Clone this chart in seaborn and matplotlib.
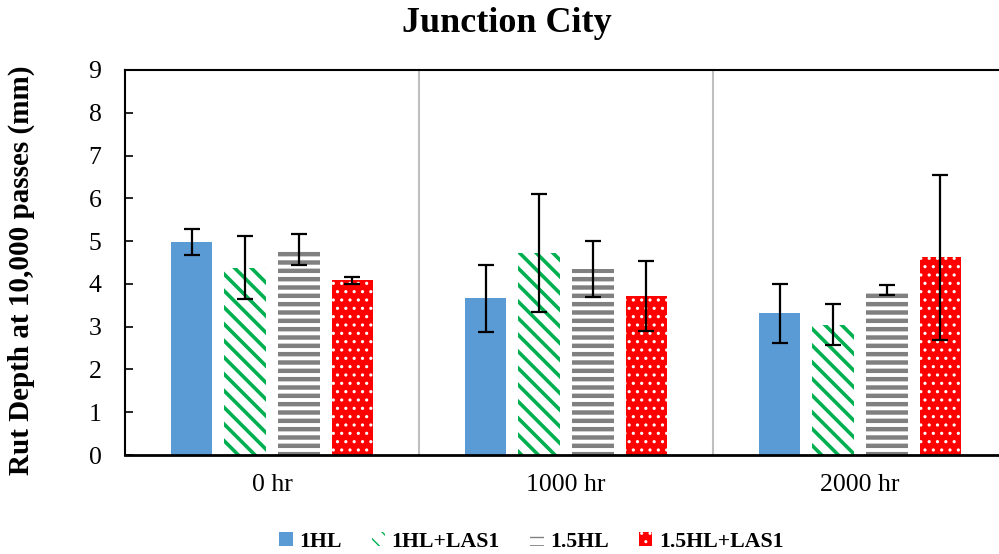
import numpy as np
import pandas as pd
import matplotlib
matplotlib.use("Agg")
import matplotlib.pyplot as plt
import seaborn as sns

# data
conditions = ["0 hr", "1000 hr", "2000 hr"]
mixes = ["1HL", "1HL+LAS1", "1.5HL", "1.5HL+LAS1"]

rut_1hl = [4.98, 3.66, 3.31]
rut_1hl_las1 = [4.38, 4.73, 3.05]
rut_15hl = [4.80, 4.35, 3.86]
rut_15hl_las1 = [4.08, 3.72, 4.62]

err_1hl = [0.31, 0.78, 0.69]
err_1hl_las1 = [0.74, 1.38, 0.49]
err_15hl = [0.37, 0.65, 0.12]
err_15hl_las1 = [0.09, 0.82, 1.93]

BLUE = "#5B9BD5"
GREEN = "#00B050"
GRAY = "#808080"
RED = "#FF0000"

values = [rut_1hl, rut_1hl_las1, rut_15hl, rut_15hl_las1]
errors = [err_1hl, err_1hl_las1, err_15hl, err_15hl_las1]

rows = []
for mix, vals in zip(mixes, values):
    for cond, v in zip(conditions, vals):
        rows.append({"Condition": cond, "Mix": mix, "Rut": v})
df = pd.DataFrame(rows)

sns.set_style("white")
plt.rcParams["font.family"] = ["Liberation Serif", "DejaVu Serif"]
plt.rcParams["text.color"] = "black"
plt.rcParams["axes.labelcolor"] = "black"
plt.rcParams["xtick.color"] = "black"
plt.rcParams["ytick.color"] = "black"

fig = plt.figure(figsize=(9.99, 5.54), dpi=100)
ax = fig.add_axes([125 / 999, 99 / 554, 882 / 999, 385 / 554])

sns.barplot(
    data=df,
    x="Condition",
    y="Rut",
    hue="Mix",
    hue_order=mixes,
    order=conditions,
    palette=[BLUE, GREEN, GRAY, RED],
    width=0.73,
    gap=0.22,
    errorbar=None,
    legend=False,
    ax=ax
)

# styling per series: face colour, hatch, hatch colour, hatch width
styles = [
    (BLUE, "", BLUE, 1.0),
    ("white", "\\\\", GREEN, 2.6),
    ("white", "--", GRAY, 3.2),
    (RED, "..", "white", 1.1),
]

for container, (face, hatch, hcol, hlw), errs in zip(ax.containers, styles, errors):
    xs = []
    ys = []
    for bar in container:
        bar.set_facecolor(face)
        bar.set_edgecolor(hcol)
        bar.set_hatch(hatch)
        bar.set_linewidth(0)
        if hasattr(bar, "set_hatch_linewidth"):
            bar.set_hatch_linewidth(hlw)
        xs.append(bar.get_x() + bar.get_width() / 2)
        ys.append(bar.get_height())
    ax.errorbar(xs, ys, yerr=errs, fmt="none", ecolor="black",
                elinewidth=1.6, capsize=6, capthick=1.6, zorder=5)

for x in [0.5, 1.5]:
    ax.axvline(x, color="#BFBFBF", linewidth=1.5, zorder=0)

ax.set_xlim(-0.5, 2.5)
ax.set_ylim(0, 9)
ax.set_yticks(range(0, 10))
ax.set_xlabel("")
ax.set_ylabel("Rut Depth at 10,000 passes (mm)", fontsize=21,
              fontweight="bold")
ax.yaxis.set_label_coords(-0.102, 0.48)
ax.tick_params(axis="y", direction="in", length=6, width=1.2,
               labelsize=18.5, pad=17, left=True)
ax.tick_params(axis="x", length=0, labelsize=18.5, pad=14)

for side in ["left", "top", "bottom", "right"]:
    ax.spines[side].set_color("black")
ax.spines["left"].set_linewidth(1.5)
ax.spines["top"].set_linewidth(1.5)
ax.spines["bottom"].set_linewidth(2)

fig.text(0.507, 0.958, "Junction City", ha="center", va="center",
         fontsize=26, fontweight="bold")

fig.legend(
    handles=ax.containers,
    labels=mixes,
    loc="center",
    bbox_to_anchor=(0.532, 0.022),
    ncol=4,
    frameon=False,
    prop={"size": 15.7, "weight": "bold"},
    handlelength=0.6,
    handleheight=0.6,
    handletextpad=0.3,
    columnspacing=1.4,
    borderaxespad=0
)

fig.savefig("out.png", dpi=100)
